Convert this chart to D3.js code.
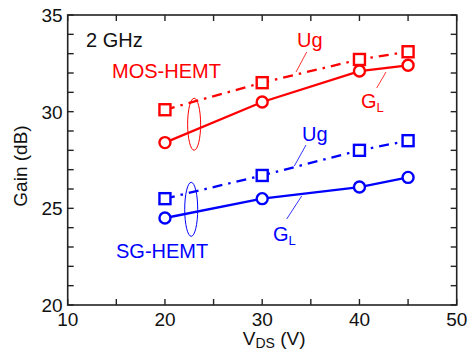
<!DOCTYPE html>
<html><head><meta charset="utf-8">
<script src="https://cdn.jsdelivr.net/npm/d3@7"></script>
<style>body{margin:0;background:#fff;} svg{display:block;font-family:"Liberation Sans",Arial,sans-serif;}</style>
</head><body>
<svg id="c" width="470" height="355"></svg>
<script>
const vds = [20, 30, 40, 45];
const mosUg = [30.1, 31.5, 32.7, 33.1];
const mosGL = [28.4, 30.5, 32.1, 32.4];
const sgUg = [25.5, 26.7, 28.0, 28.5];
const sgGL = [24.5, 25.5, 26.1, 26.6];
const xTicks = [10, 20, 30, 40, 50];
const yTicks = [20, 25, 30, 35];

const RED = "#ff0000", BLUE = "#0000ff";
const svg = d3.select("#c");
const L = 67.7, R = 456.7, T = 15, B = 305;
const x = d3.scaleLinear().domain([10, 50]).range([L, R]);
const y = d3.scaleLinear().domain([20, 35]).range([B, T]);

// frame
svg.append("rect").attr("x", L).attr("y", T).attr("width", R - L).attr("height", B - T)
  .attr("fill", "none").attr("stroke", "#222").attr("stroke-width", 1.6);

const tk = 6;
const xMinor = d3.range(10, 50.1, 5);
const yMinor = d3.range(20, 35.1, 1);
const g = svg.append("g").attr("stroke", "#222").attr("stroke-width", 1.4);
xMinor.forEach(v => {
  g.append("line").attr("x1", x(v)).attr("x2", x(v)).attr("y1", B).attr("y2", B - tk);
  g.append("line").attr("x1", x(v)).attr("x2", x(v)).attr("y1", T).attr("y2", T + tk);
});
yMinor.forEach(v => {
  g.append("line").attr("y1", y(v)).attr("y2", y(v)).attr("x1", L).attr("x2", L + tk);
  g.append("line").attr("y1", y(v)).attr("y2", y(v)).attr("x1", R).attr("x2", R - tk);
});

// tick labels
svg.selectAll(".xt").data(xTicks).enter().append("text")
  .attr("x", d => x(d)).attr("y", B + 20.5).attr("text-anchor", "middle")
  .attr("font-size", 19).attr("fill", "#111").text(d => d);
svg.selectAll(".yt").data(yTicks).enter().append("text")
  .attr("x", L - 5).attr("y", d => y(d) + 7).attr("text-anchor", "end")
  .attr("font-size", 19).attr("fill", "#111").text(d => d);

// axis titles
svg.append("text").attr("transform", `translate(27,${166}) rotate(-90)`)
  .attr("text-anchor", "middle").attr("font-size", 19).attr("fill", "#111").text("Gain (dB)");
const xl = svg.append("text").attr("x", x(30) + 12).attr("y", 345).attr("text-anchor", "middle")
  .attr("font-size", 19).attr("fill", "#111");
xl.append("tspan").text("V");
xl.append("tspan").attr("font-size", 14).attr("dy", 2.5).text("DS");
xl.append("tspan").attr("dy", -2.5).text(" (V)");

// series
const line = d3.line().x(d => x(d[0])).y(d => y(d[1]));
function series(vals, color, dashed, marker) {
  const pts = vds.map((v, i) => [v, vals[i]]);
  svg.append("path").attr("d", line(pts)).attr("fill", "none").attr("stroke", color)
    .attr("stroke-width", 2.3).attr("stroke-dasharray", dashed ? "10,6,2.5,6" : null);
  if (marker === "sq") {
    svg.selectAll(null).data(pts).enter().append("rect")
      .attr("x", d => x(d[0]) - 5.5).attr("y", d => y(d[1]) - 5.5).attr("width", 11).attr("height", 11)
      .attr("fill", "#fff").attr("stroke", color).attr("stroke-width", 2.4);
  } else {
    svg.selectAll(null).data(pts).enter().append("circle")
      .attr("cx", d => x(d[0])).attr("cy", d => y(d[1])).attr("r", 5.5)
      .attr("fill", "#fff").attr("stroke", color).attr("stroke-width", 2.4);
  }
}
series(mosUg, RED, true, "sq");
series(mosGL, RED, false, "ci");
series(sgUg, BLUE, true, "sq");
series(sgGL, BLUE, false, "ci");

// ellipses
svg.append("ellipse").attr("cx", x(23)).attr("cy", y(29.35)).attr("rx", 6.5).attr("ry", 26)
  .attr("fill", "none").attr("stroke", RED).attr("stroke-width", 1);
svg.append("ellipse").attr("cx", x(22.7)).attr("cy", y(24.95)).attr("rx", 6.5).attr("ry", 27)
  .attr("fill", "none").attr("stroke", BLUE).attr("stroke-width", 1);

// text annotations
function txt(t, xx, yy, color, size) {
  return svg.append("text").attr("x", xx).attr("y", yy).attr("font-size", size || 20)
    .attr("fill", color).text(t);
}
txt("2 GHz", 86, 47, "#111", 20);
txt("MOS-HEMT", 112, 78, RED, 20);
txt("SG-HEMT", 116, 258, BLUE, 20);
txt("Ug", 297, 47, RED, 20);
txt("Ug", 302, 141, BLUE, 20);
function gl(xx, yy, color) {
  const t = svg.append("text").attr("x", xx).attr("y", yy).attr("font-size", 20).attr("fill", color);
  t.append("tspan").text("G");
  t.append("tspan").attr("font-size", 13).attr("dy", 4).text("L");
}
gl(361, 108, RED);
gl(273, 241, BLUE);

// leader lines
function lead(x1, y1, x2, y2, c) {
  svg.append("line").attr("x1", x1).attr("y1", y1).attr("x2", x2).attr("y2", y2)
    .attr("stroke", c).attr("stroke-width", 0.8);
}
lead(306.7, 52, 296, 72, RED);
lead(386, 72, 376.7, 88, RED);
lead(306, 145, 294.3, 166, BLUE);
lead(301.7, 196, 286.7, 219, BLUE);
</script>
</body></html>
